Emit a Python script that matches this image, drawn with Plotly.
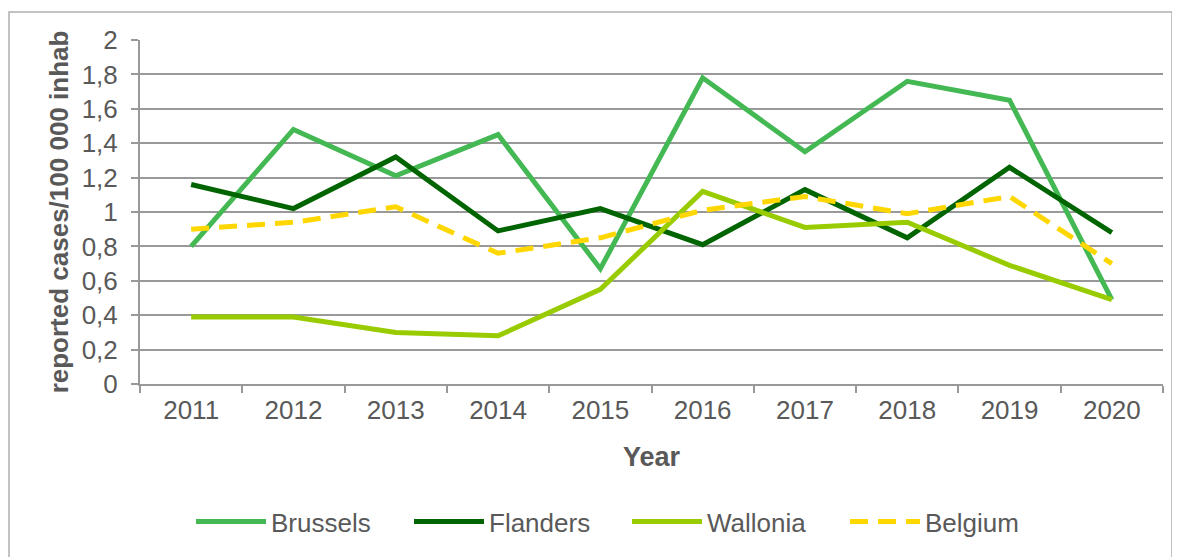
import plotly.graph_objects as go

years = ["2011", "2012", "2013", "2014", "2015", "2016", "2017", "2018", "2019", "2020"]
brussels = [0.80, 1.48, 1.21, 1.45, 0.67, 1.78, 1.35, 1.76, 1.65, 0.49]
flanders = [1.16, 1.02, 1.32, 0.89, 1.02, 0.81, 1.13, 0.85, 1.26, 0.88]
wallonia = [0.39, 0.39, 0.30, 0.28, 0.55, 1.12, 0.91, 0.94, 0.69, 0.49]
belgium = [0.90, 0.94, 1.03, 0.76, 0.85, 1.01, 1.09, 0.99, 1.09, 0.70]
y_ticks = [0, 0.2, 0.4, 0.6, 0.8, 1.0, 1.2, 1.4, 1.6, 1.8, 2.0]
y_tick_labels = ["0", "0,2", "0,4", "0,6", "0,8", "1", "1,2", "1,4", "1,6", "1,8", "2"]

fig = go.Figure()
series = [
    ("Brussels", brussels, "#43B853", "solid"),
    ("Flanders", flanders, "#006400", "solid"),
    ("Wallonia", wallonia, "#99CC00", "solid"),
    ("Belgium", belgium, "#FFD700", "18px,10px"),
]
for name, vals, col, dash in series:
    fig.add_trace(go.Scatter(x=years, y=vals, name=name, mode="lines",
                             line=dict(color=col, width=5, dash=dash)))

FONT = "Liberation Sans, Arial, sans-serif"
# page has an 8px body margin; margins compensate so the plot area sits at x 140..1163, y 40..384
fig.update_layout(
    width=1180, height=557,
    margin=dict(l=132, r=25, t=32, b=181),
    paper_bgcolor="white", plot_bgcolor="white",
    font=dict(family=FONT, color="#595959", size=26),
    showlegend=True,
    legend=dict(orientation="h", x=(191 - 140) / 1023, xanchor="left", y=(384 - 498) / 344, yanchor="top",
                font=dict(size=26, color="#595959"), itemwidth=70, entrywidth=133),
    xaxis=dict(type="category", range=[-0.5, 9.5], showgrid=False, showline=True,
               linecolor="#999999", linewidth=2, automargin=False,
               ticks="outside", tickson="boundaries", ticklen=7, tickcolor="#999999", tickwidth=2,
               ticklabelstandoff=2,
               title=dict(text="<b>Year</b>", font=dict(size=27, color="#595959"), standoff=23),
               tickfont=dict(size=26, color="#595959")),
    yaxis=dict(range=[0, 2], tickvals=y_ticks, ticktext=y_tick_labels,
               showgrid=True, gridcolor="#999999", gridwidth=2,
               showline=True, linecolor="#999999", linewidth=2, automargin=False,
               ticks="outside", ticklen=7, tickcolor="#999999", tickwidth=2,
               zeroline=False, ticklabelstandoff=8,
               title=dict(text="<b>reported cases/100 000 inhab</b>", font=dict(size=26, color="#595959"), standoff=6),
               tickfont=dict(size=26, color="#595959")),
    shapes=[dict(type="rect", xref="paper", yref="paper",
                 x0=(9 - 140) / 1023, x1=(1172 - 140) / 1023,
                 y0=(384 - 560) / 344, y1=(384 - 12) / 344,
                 line=dict(color="#B0B0B0", width=1.5), fillcolor="rgba(0,0,0,0)", layer="below")],
)

fig.write_html("out.html")
